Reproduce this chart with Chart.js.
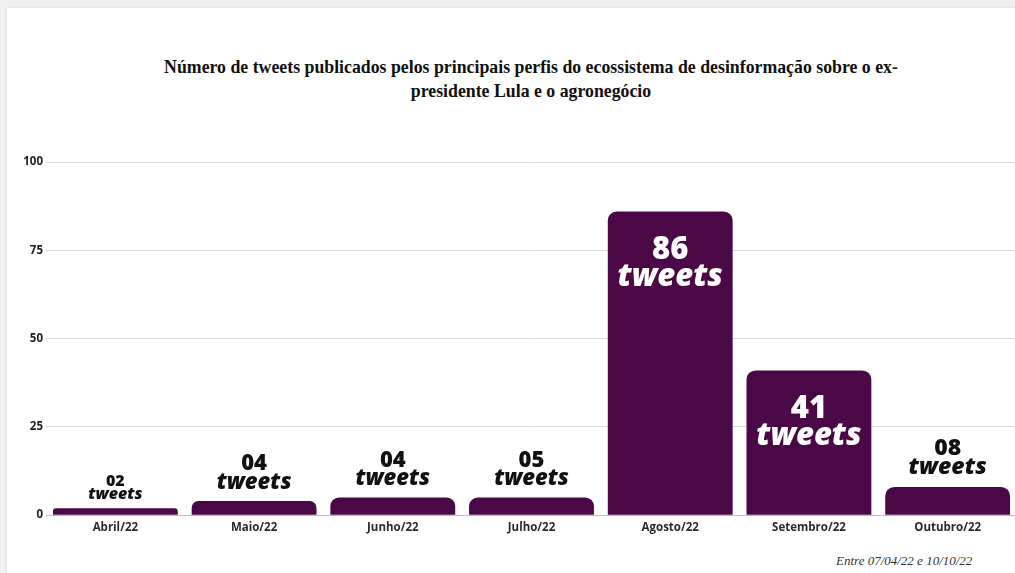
<!DOCTYPE html>
<html>
<head>
<meta charset="utf-8">
<script src="https://cdn.jsdelivr.net/npm/chart.js@4"></script>
<style>
  html, body { margin: 0; padding: 0; width: 1015px; height: 573px; overflow: hidden; background: #f1f1f1; }
  .card { position: absolute; left: 7px; top: 8px; width: 1020px; height: 580px; background: #fff; box-shadow: 0 0 3px rgba(0,0,0,0.12); }
  .title { position: absolute; left: 40px; width: 982px; top: 55px; text-align: center;
           font: bold 17.8px "Liberation Serif", "Times New Roman", serif; line-height: 24px; color: #111; }
  .foot { position: absolute; left: 836px; top: 553px; font: italic 13px "Liberation Serif", serif; color: #333; white-space: nowrap; }
  .box { position: absolute; left: 7px; top: 150px; width: 1010px; height: 391px; }
</style>
</head>
<body>
<div class="card"></div>
<div class="title">Número de tweets publicados pelos principais perfis do ecossistema de desinformação sobre o ex-<br>presidente Lula e o agronegócio</div>
<div class="box"><canvas id="chart01"></canvas></div>
<div class="foot">Entre 07/04/22 e 10/10/22</div>
<script>
const aMonths = ["Abril/22", "Maio/22", "Junho/22", "Julho/22", "Agosto/22", "Setembro/22", "Outubro/22"];
const aTweets = [2, 4, 5, 5, 86, 41, 8];
const aLabels = ["02", "04", "04", "05", "86", "41", "08"];
const aTicks = [0, 25, 50, 75, 100];

// tamanho da fonte do rótulo de cada barra
const aLabelSize = [16, 22, 22, 22, 31, 31, 23];

const barLabels = {
    id: "barLabels",
    afterDatasetsDraw(chart) {
        const ctx = chart.ctx;
        const meta = chart.getDatasetMeta(0);
        ctx.save();
        ctx.textAlign = "center";
        ctx.textBaseline = "alphabetic";
        ctx.lineJoin = "round";
        meta.data.forEach((bar, i) => {
            const size = aLabelSize[i];
            const inside = aTweets[i] > 20;
            let yNum, yTw;
            if (inside) {
                yNum = bar.y + 1.55 * size;
                yTw = yNum + 0.87 * size;
            } else {
                yTw = bar.y - 0.55 * size;
                yNum = yTw - 0.85 * size;
            }
            const parts = [
                [aLabels[i], "800 " + size + "px 'Open Sans'", yNum],
                ["tweets", "italic 800 " + size + "px 'Open Sans'", yTw]
            ];
            parts.forEach(p => {
                ctx.font = p[1];
                if (!inside) {
                    ctx.strokeStyle = "#fff";
                    ctx.lineWidth = 3;
                    ctx.strokeText(p[0], bar.x, p[2]);
                    ctx.fillStyle = "#111";
                } else {
                    ctx.fillStyle = "#fff";
                }
                ctx.fillText(p[0], bar.x, p[2]);
            });
        });
        ctx.restore();
    }
};

const ctx = document.getElementById("chart01");
new Chart(ctx, {
    type: "bar",
    data: {
        labels: aMonths,
        datasets: [{
            label: "tweets",
            data: aTweets,
            backgroundColor: "#4a0846",
            borderRadius: { topLeft: 9, topRight: 9, bottomLeft: 0, bottomRight: 0 },
            borderSkipped: "bottom",
            barPercentage: 0.9,
            categoryPercentage: 1
        }]
    },
    options: {
        responsive: true,
        maintainAspectRatio: false,
        animation: false,
        layout: { padding: { top: 12, bottom: 0, left: 0, right: 0 } },
        plugins: {
            legend: { display: false },
            tooltip: { enabled: false },
            title: { display: false }
        },
        scales: {
            x: {
                grid: { display: false, drawTicks: false },
                border: { display: true, color: "#bdbdbd", width: 1 },
                ticks: { padding: 6, color: "#2a2a2a", font: { family: "Open Sans", size: 11.5, weight: "bold" } }
            },
            y: {
                min: 0,
                max: 100,
                afterBuildTicks(scale) { scale.ticks = aTicks.map(v => ({ value: v })); },
                afterFit(scale) { scale.width = 39; },
                grid: { color: "#d9d9d9", drawTicks: false },
                border: { display: false },
                ticks: { padding: 3, color: "#222", font: { family: "Open Sans", size: 11.5, weight: "bold" } }
            }
        }
    },
    plugins: [barLabels]
});
</script>
</body>
</html>
